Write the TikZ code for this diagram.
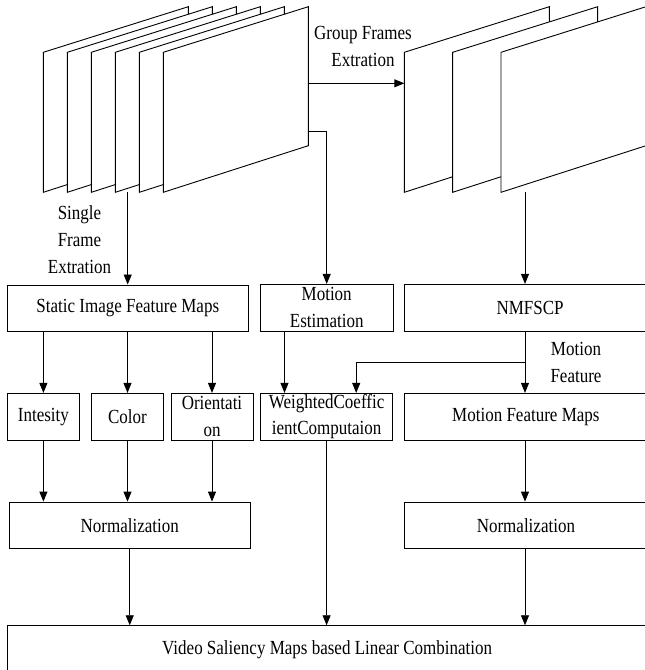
\documentclass[tikz,border=0pt]{standalone}
\usepackage{fontspec}
\setmainfont{Liberation Serif}[FakeStretch=0.85]
\usetikzlibrary{arrows.meta}
\tikzset{
  txt/.style={font=\fontsize{20}{26.7}\selectfont},
  box/.style={draw, line width=0.9pt, rectangle, inner sep=0pt, align=center, txt},
  lbl/.style={inner sep=0pt, align=center, txt},
  frm/.style={draw, fill=white, line width=0.9pt, line join=miter},
  arr/.style={draw, line width=0.9pt, -{Triangle[length=10pt,width=8pt]}},
}
\begin{document}
\begin{tikzpicture}[x=1pt,y=-1pt]
\useasboundingbox (0,0) rectangle (645,670);
\clip (0,0) rectangle (645,670);
\fill[white] (0,0) rectangle (645,670);
% left stack of frames
\foreach \i in {0,...,5}{
  \pgfmathsetmacro\fx{43.3+24*\i}
  \draw[frm] (\fx,52.3) -- (\fx+145,6.7) -- (\fx+145,145.7) -- (\fx,192.3) -- cycle;
}
% right group of frames
\foreach \i in {0,1,2}{
  \pgfmathsetmacro\fx{404.3+48.35*\i}
  \draw[frm] (\fx,52.3) -- (\fx+145,6.7) -- (\fx+145,145.7) -- (\fx,192.3) -- cycle;
}
% boxes
\node[box, minimum width=241pt, minimum height=46.7pt] (static) at (127.8,308.3) {Static Image Feature Maps};
\node[box, minimum width=133.3pt, minimum height=46.7pt] (motest) at (326.7,307.7) {Motion\\Estimation};
\node[box, minimum width=251.7pt, minimum height=46.7pt] (nmf) at (530.15,307.7) {NMFSCP};
\node[box, minimum width=72pt, minimum height=46.7pt] (int) at (43.4,416.7) {Intesity};
\node[box, minimum width=72.4pt, minimum height=46.7pt] (col) at (127.5,416.7) {Color};
\node[box, minimum width=82pt, minimum height=46.7pt] (ori) at (212,416.7) {Orientati\\on};
\node[box, minimum width=132.4pt, minimum height=46.7pt] (wc) at (326.6,416.7) {WeightedCoeffic\\ientComputaion};
\node[box, minimum width=242.2pt, minimum height=46.7pt] (mfm) at (525.9,416.7) {Motion Feature Maps};
\node[box, minimum width=241.5pt, minimum height=46.3pt] (norm1) at (129.75,525.2) {Normalization};
\node[box, minimum width=242.2pt, minimum height=46.3pt] (norm2) at (525.9,525.2) {Normalization};
\node[box, minimum width=639.6pt, minimum height=47.3pt] (vid) at (327.2,649.35) {Video Saliency Maps based Linear Combination};
% labels
\node[lbl] (lsf) at (79.5,239.6) {Single\\Frame\\Extration};
\node[lbl] (lgf) at (363,46.7) {Group Frames\\Extration};
\node[lbl] (lmf) at (576,362.2) {Motion\\Feature};
% connector ends on the frames
\coordinate (sf) at (127.7,192.3);
\coordinate (g1) at (308.3,83.3);
\coordinate (g2) at (404.3,83.3);
\coordinate (m1) at (308.3,131);
\coordinate (r1) at (525,192.3);
\coordinate (br) at (525,362.7);
% connectors
\draw[arr] (sf) -- (sf |- static.north);
\draw[arr] (g1) -- (g2);
\draw[arr] (m1) -| (motest.north);
\draw[arr] (r1) -- (r1 |- nmf.north);
\draw[arr] (static.south -| int.north) -- (int.north);
\draw[arr] (static.south -| col.north) -- (col.north);
\draw[arr] (static.south -| ori.north) -- (ori.north);
\draw[arr] ([xshift=-42.2pt]motest.south) -- ([xshift=-42.2pt]motest.south |- wc.north);
\draw[arr] (r1 |- nmf.south) -- (r1 |- mfm.north);
\draw[arr] (br) -| ([xshift=29.6pt]wc.north);
\draw[arr] (int.south) -- (int.south |- norm1.north);
\draw[arr] (col.south) -- (col.south |- norm1.north);
\draw[arr] (ori.south) -- (ori.south |- norm1.north);
\draw[arr] (r1 |- mfm.south) -- (r1 |- norm2.north);
\draw[arr] (norm1.south) -- (norm1.south |- vid.north);
\draw[arr] (wc.south) -- (wc.south |- vid.north);
\draw[arr] (r1 |- norm2.south) -- (r1 |- vid.north);
\end{tikzpicture}
\end{document}
